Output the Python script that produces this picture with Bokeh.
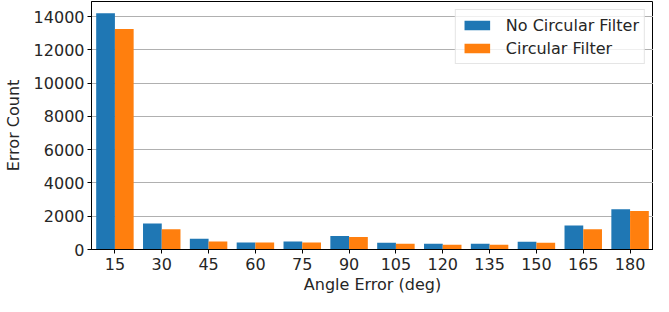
from bokeh.plotting import figure
from bokeh.models import ColumnDataSource, FactorRange, Range1d, FixedTicker, Legend, LegendItem
from bokeh.transform import dodge
from bokeh.embed import file_html
from bokeh.resources import INLINE

angles = ["15", "30", "45", "60", "75", "90", "105", "120", "135", "150", "165", "180"]
no_filter = [14200, 1560, 640, 420, 480, 810, 400, 350, 350, 460, 1440, 2420]
circ_filter = [13250, 1210, 480, 420, 420, 750, 350, 290, 290, 400, 1210, 2310]
y_ticks = [0, 2000, 4000, 6000, 8000, 10000, 12000, 14000]

src = ColumnDataSource(dict(angle=angles, nf=no_filter, cf=circ_filter))

FONT = "DejaVu Sans"
p = figure(x_range=FactorRange(*angles, range_padding=0), y_range=Range1d(0, 14910),
           width=653, height=296, output_backend="svg", toolbar_location=None,
           min_border_left=88, min_border_right=0, min_border_top=1, min_border_bottom=0)

r1 = p.vbar(x=dodge("angle", -0.2, range=p.x_range), top="nf", width=0.4, source=src,
            fill_color="#1f77b4", line_color=None)
r2 = p.vbar(x=dodge("angle", 0.2, range=p.x_range), top="cf", width=0.4, source=src,
            fill_color="#ff7f0e", line_color=None)

p.outline_line_color = "black"
p.outline_line_width = 1
p.xgrid.grid_line_color = None
p.ygrid.grid_line_color = "#b0b0b0"
p.ygrid.grid_line_width = 1
p.yaxis.ticker = FixedTicker(ticks=y_ticks)

for ax in (p.xaxis[0], p.yaxis[0]):
    ax.axis_line_color = "black"
    ax.major_tick_line_color = "black"
    ax.major_tick_out = 4
    ax.major_tick_in = 0
    ax.minor_tick_line_color = None
    ax.major_label_text_font = FONT
    ax.major_label_text_font_size = "16px"
    ax.major_label_text_color = "#262626"
    ax.axis_label_text_font = FONT
    ax.axis_label_text_font_size = "16px"
    ax.axis_label_text_font_style = "normal"
    ax.axis_label_text_color = "#262626"

p.xaxis.axis_label = "Angle Error (deg)"
p.yaxis.axis_label = "Error Count"
p.xaxis.major_label_standoff = 4
p.xaxis.axis_label_standoff = 2
p.yaxis.major_label_standoff = 3
p.yaxis.axis_label_standoff = 8

legend = Legend(items=[LegendItem(label="No Circular Filter", renderers=[r1]),
                       LegendItem(label="Circular Filter", renderers=[r2])],
                location="top_right")
legend.label_text_font = FONT
legend.label_text_font_size = "16px"
legend.label_text_color = "#262626"
legend.border_line_color = "#cccccc"
legend.border_line_width = 1
legend.background_fill_alpha = 0.8
legend.margin = 8
legend.padding = 5
legend.spacing = 3
legend.glyph_width = 32
legend.glyph_height = 12
legend.label_height = 20
legend.label_standoff = 13
p.add_layout(legend)

open("out.html", "w").write(file_html(p, INLINE))
